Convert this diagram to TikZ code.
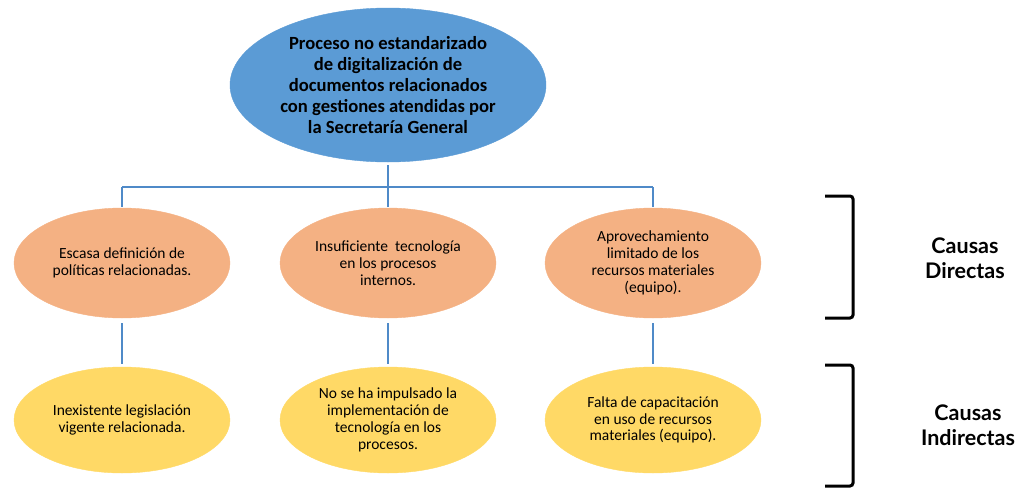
\documentclass[tikz,border=0pt]{standalone}
\usepackage{fontspec}
\setmainfont{Carlito}
\newfontfamily\causafnt{Lato}
\usetikzlibrary{shapes.geometric}
\definecolor{topblue}{HTML}{5B9BD5}
\definecolor{linkblue}{HTML}{4F8AC8}
\definecolor{orangefill}{HTML}{F4B183}
\definecolor{yellowfill}{HTML}{FFD966}
\tikzset{
  topnode/.style={ellipse, fill=topblue, draw=topblue, minimum width=316pt, minimum height=154pt, inner sep=0pt, align=center, font=\fontsize{18.6}{21}\selectfont\bfseries},
  direct/.style={ellipse, fill=orangefill, draw=orangefill, minimum width=216pt, minimum height=110pt, inner sep=0pt, align=center, font=\fontsize{15.5}{16.8}\selectfont},
  indirect/.style={ellipse, fill=yellowfill, draw=yellowfill, minimum width=216pt, minimum height=106pt, inner sep=0pt, align=center, font=\fontsize{15.5}{16.8}\selectfont},
  link/.style={draw=linkblue, line width=2.4pt},
  bracket/.style={draw=black, line width=3pt, rounded corners=3pt},
  causa/.style={align=center, font=\causafnt\bfseries\fontsize{21.5}{25}\selectfont}
}
\begin{document}
\begin{tikzpicture}[x=1pt, y=-1pt]
\useasboundingbox (0,0) rectangle (1033,490);
\node[topnode] (top) at (388,85) {Proceso no estandarizado\\de digitalización de\\documentos relacionados\\con gestiones atendidas por\\la Secretaría General};
\node[direct] (d1) at (122,263) {Escasa definición de\\políticas relacionadas.};
\node[direct] (d2) at (388,263) {Insuficiente\ \ tecnología\\en los procesos\\internos.};
\node[direct] (d3) at (653,263) {Aprovechamiento\\limitado de los\\recursos materiales\\(equipo).};
\node[indirect] (i1) at (122,420) {Inexistente legislación\\vigente relacionada.};
\node[indirect] (i2) at (388,420) {No se ha impulsado la\\implementación de\\tecnología en los\\procesos.};
\node[indirect] (i3) at (653,420) {Falta de capacitación\\en uso de recursos\\materiales (equipo).};
\coordinate (jL) at (122,187);
\coordinate (jM) at (388,187);
\coordinate (jR) at (653,187);
\draw[link, shorten <=3pt] (top.south) -- (jM);
\draw[link] (jL) -- (jR);
\draw[link, shorten >=1pt] (jL) -- (d1.north);
\draw[link, shorten >=1pt] (jM) -- (d2.north);
\draw[link, shorten >=1pt] (jR) -- (d3.north);
\draw[link, shorten <=5pt, shorten >=3pt] (d1.south) -- (i1.north);
\draw[link, shorten <=5pt, shorten >=3pt] (d2.south) -- (i2.north);
\draw[link, shorten <=5pt, shorten >=3pt] (d3.south) -- (i3.north);
\coordinate (b1a) at (825,196);
\coordinate (b1b) at (853,196);
\coordinate (b1c) at (853,318);
\coordinate (b1d) at (825,318);
\draw[bracket] (b1a) -- (b1b) -- (b1c) -- (b1d);
\coordinate (b2a) at (825,365);
\coordinate (b2b) at (853,365);
\coordinate (b2c) at (853,486);
\coordinate (b2d) at (825,486);
\draw[bracket] (b2a) -- (b2b) -- (b2c) -- (b2d);
\node[causa] (cd) at (965,258) {Causas\\Directas};
\node[causa] (ci) at (968,425) {Causas\\Indirectas};
\end{tikzpicture}
\end{document}
